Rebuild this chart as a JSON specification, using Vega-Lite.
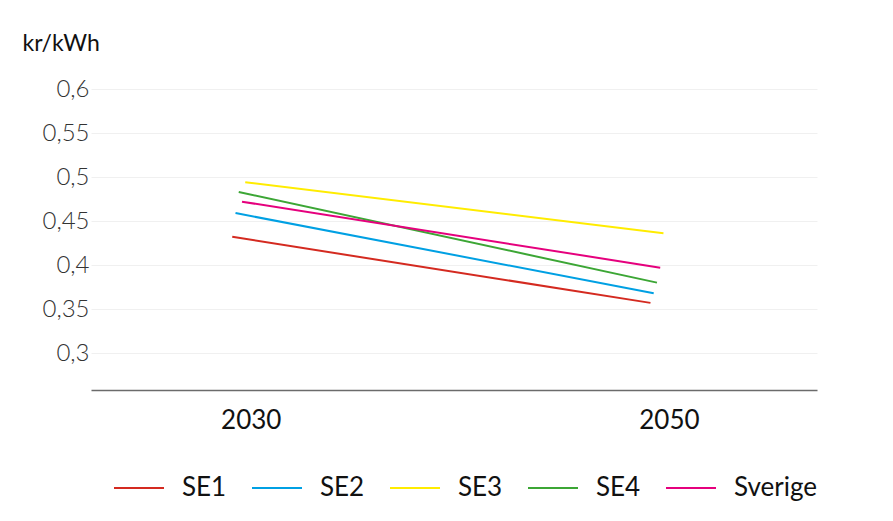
{
  "$schema": "https://vega.github.io/schema/vega-lite/v6.json",
  "autosize": "none",
  "width": 726,
  "height": 301,
  "padding": {"left": 91, "top": 89, "right": 76, "bottom": 131},
  "background": "#ffffff",
  "config": {"view": {"stroke": null}, "font": "Lato"},
  "data": {"values": [
    {"region": "SE1", "year": "2030", "value": 0.432},
    {"region": "SE1", "year": "2050", "value": 0.357},
    {"region": "SE2", "year": "2030", "value": 0.459},
    {"region": "SE2", "year": "2050", "value": 0.368},
    {"region": "SE3", "year": "2030", "value": 0.494},
    {"region": "SE3", "year": "2050", "value": 0.436},
    {"region": "SE4", "year": "2030", "value": 0.483},
    {"region": "SE4", "year": "2050", "value": 0.380},
    {"region": "Sverige", "year": "2030", "value": 0.472},
    {"region": "Sverige", "year": "2050", "value": 0.397}
  ]},
  "mark": {"type": "line", "strokeWidth": 2},
  "encoding": {
    "x": {
      "field": "year", "type": "ordinal",
      "scale": {"type": "point", "padding": 0.368, "align": 0.519},
      "axis": {
        "title": null, "labelAngle": 0, "ticks": false,
        "domainColor": "#6b6b6b", "domainWidth": 1.5,
        "labelFontSize": 26, "labelColor": "#111111", "labelPadding": 17,
        "labelFont": "Lato", "grid": false
      }
    },
    "xOffset": {
      "field": "region", "type": "nominal",
      "scale": {"type": "point", "domain": ["SE1", "SE2", "SE4", "Sverige", "SE3"], "range": [-18.5, -5.5], "padding": 0}
    },
    "y": {
      "field": "value", "type": "quantitative",
      "scale": {"domain": [0.258, 0.6], "nice": false, "zero": false},
      "axis": {
        "values": [0.3, 0.35, 0.4, 0.45, 0.5, 0.55, 0.6],
        "labelExpr": "replace(format(datum.value, '.2~f'), '.', ',')",
        "domain": false, "ticks": false,
        "gridColor": "#f0f0f0", "gridWidth": 1,
        "labelFontSize": 24, "labelColor": "#333333", "labelFontWeight": 300,
        "labelPadding": 2,
        "title": "kr/kWh", "titleAngle": 0, "titleAlign": "left", "titleBaseline": "middle",
        "titleX": -69, "titleY": -46, "titleFontSize": 23, "titleFontWeight": "normal",
        "titleColor": "#111111"
      }
    },
    "color": {
      "field": "region", "type": "nominal",
      "scale": {
        "domain": ["SE1", "SE2", "SE3", "SE4", "Sverige"],
        "range": ["#d42a20", "#00a0e3", "#ffec00", "#3ca635", "#e5007d"]
      },
      "legend": {
        "title": null, "orient": "none", "direction": "horizontal", "columns": 5,
        "legendX": 22, "legendY": 373,
        "symbolType": "stroke", "symbolSize": 2500, "symbolStrokeWidth": 2,
        "labelFontSize": 26, "labelColor": "#111111", "labelOffset": 17,
        "columnPadding": 21
      }
    }
  }
}
